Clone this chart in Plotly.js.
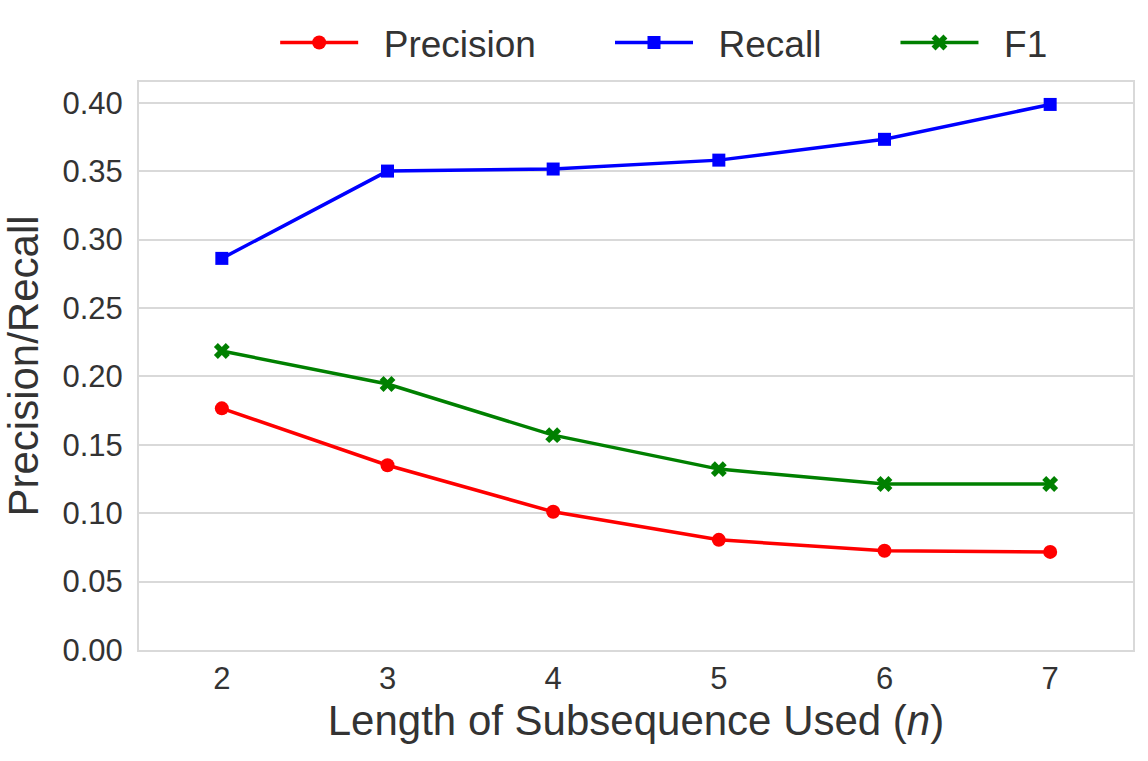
<!DOCTYPE html>
<html>
<head>
<meta charset="utf-8">
<script src="https://cdn.plot.ly/plotly-3.0.1.min.js"></script>
<style>html,body{margin:0;padding:0;background:#fff;}#chart{width:1148px;height:761px;}</style>
</head>
<body>
<div id="chart"></div>
<script>
const nValues = [2, 3, 4, 5, 6, 7];
const precision = [0.1766, 0.1350, 0.1010, 0.0805, 0.0725, 0.0717];
const recall = [0.2862, 0.3500, 0.3515, 0.3580, 0.3732, 0.3987];
const f1 = [0.2185, 0.1944, 0.1570, 0.1322, 0.1213, 0.1213];
const seriesNames = ["Precision", "Recall", "F1"];
const yTicks = [0, 0.05, 0.10, 0.15, 0.20, 0.25, 0.30, 0.35, 0.40];
const yTickText = ["0.00", "0.05", "0.10", "0.15", "0.20", "0.25", "0.30", "0.35", "0.40"];

const NB = "\u00a0";
const TH = "\u2009";
const lead = NB + NB;
const trail = NB.repeat(6) + TH;

const traces = [
  {x: nValues, y: precision, name: lead + seriesNames[0] + trail, mode: "lines+markers",
   line: {color: "#ff0000", width: 3.5}, marker: {symbol: "circle", size: 14, color: "#ff0000"}},
  {x: nValues, y: recall, name: lead + seriesNames[1] + trail, mode: "lines+markers",
   line: {color: "#0000ff", width: 3.5}, marker: {symbol: "square", size: 13, color: "#0000ff"}},
  {x: nValues, y: f1, name: lead + seriesNames[2], mode: "lines+markers",
   line: {color: "#008000", width: 3.5}, marker: {symbol: "x", size: 14, color: "#008000"}}
];

const layout = {
  width: 1148, height: 761,
  margin: {l: 139, r: 15, t: 82, b: 111},
  paper_bgcolor: "#ffffff", plot_bgcolor: "#ffffff",
  font: {family: "Liberation Sans, Arial, sans-serif", color: "#333333"},
  showlegend: true,
  legend: {orientation: "h", x: 0.137, xanchor: "left", y: 1.0687, yanchor: "middle",
           bgcolor: "rgba(0,0,0,0)", font: {size: 37, color: "#333333"}, itemwidth: 78, tracegroupgap: 0},
  xaxis: {
    range: [1.5, 7.5], tickvals: nValues, ticktext: nValues.map(String),
    tickfont: {size: 31, color: "#333333"}, showgrid: false, zeroline: false,
    showline: true, linecolor: "#d9d9d9", linewidth: 2, mirror: true, ticks: "",
    ticklabelstandoff: 0, automargin: false,
    title: {text: "Length of Subsequence Used (<i>n</i>)", font: {size: 42, color: "#333333"}, standoff: 10}
  },
  yaxis: {
    range: [0, 0.4151], tickvals: yTicks, ticktext: yTickText,
    tickfont: {size: 31, color: "#333333"}, showgrid: true, gridcolor: "#d9d9d9", gridwidth: 2,
    zeroline: false, showline: true, linecolor: "#d9d9d9", linewidth: 2, mirror: true,
    ticks: "", ticklabelstandoff: 8, automargin: false,
    title: {text: "Precision/Recall", font: {size: 42, color: "#333333"}, standoff: 12}
  }
};

Plotly.newPlot("chart", traces, layout, {displayModeBar: false, staticPlot: true});
</script>
</body>
</html>
